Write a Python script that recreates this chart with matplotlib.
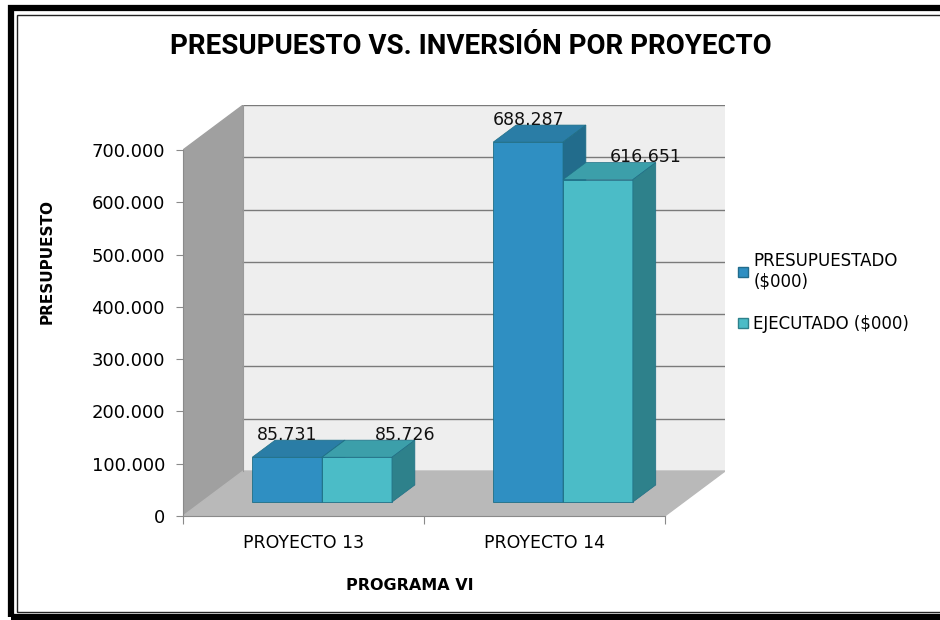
import matplotlib
matplotlib.use("Agg")
import matplotlib.pyplot as plt
from matplotlib import font_manager
from matplotlib.patches import Rectangle
from matplotlib.lines import Line2D

# data
proyectos = ["PROYECTO 13", "PROYECTO 14"]
series = ["PRESUPUESTADO\n($000)", "EJECUTADO ($000)"]
presupuestado = [85731, 688287]
ejecutado = [85726, 616651]
y_ticks = [0, 100000, 200000, 300000, 400000, 500000, 600000, 700000]

# colours: front, top, side
col_pres = ("#2F8FC2", "#2A7DA6", "#226C8C")
col_ejec = ("#4BBCC7", "#3C9FAA", "#2E818B")


def pick_font(names):
    have = {f.name for f in font_manager.fontManager.ttflist}
    for n in names:
        if n in have:
            return n
    return "DejaVu Sans"


narrow = pick_font(["Liberation Sans Narrow", "Roboto", "DejaVu Sans"])
plt.rcParams["font.family"] = "DejaVu Sans"

fig = plt.figure(figsize=(9.4, 6.2), dpi=100)
W, H = 940, 620

# 3d fake: depth offset in data units
DX = 0.25
DY = 86000
ymax = y_ticks[-1]
ax = fig.add_axes([183 / W, 104 / H, (725 - 183) / W, (516 - 105) / H])
ax.set_xlim(0, 2 + DX)
ax.set_ylim(0, ymax + DY)
ax.patch.set_alpha(0)

# walls and floor
ax.fill([DX, 2 + DX, 2 + DX, DX], [DY, DY, ymax + DY, ymax + DY],
        color="#EEEEEE", zorder=0)
ax.fill([0, DX, DX, 0], [0, DY, ymax + DY, ymax], color="#A0A0A0", zorder=0)
ax.fill([0, 2, 2 + DX, DX], [0, 0, DY, DY], color="#B9B9B9", zorder=0)
for v in y_ticks[1:]:
    ax.plot([DX, 2 + DX], [v + DY, v + DY], color="#7A7A7A", lw=1, zorder=1)
ax.plot([DX, DX], [DY, ymax + DY], color="#9A9A9A", lw=0.8, zorder=1)

# bars
f0, f1 = 0.31, 0.69
w = 0.29
ddx = (f1 - f0) * DX
ddy = (f1 - f0) * DY
centers = [0.5, 1.5]
for k, (vals, cols) in enumerate([(presupuestado, col_pres), (ejecutado, col_ejec)]):
    xs = [c + f0 * DX - w + k * w for c in centers]
    ax.bar(xs, vals, width=w, bottom=f0 * DY, align="edge",
           color=cols[0], edgecolor="#1F6F86", linewidth=0.6, zorder=3 + k)
    for x0, v in zip(xs, vals):
        top = v + f0 * DY
        ax.fill([x0, x0 + w, x0 + w + ddx, x0 + ddx],
                [top, top, top + ddy, top + ddy],
                color=cols[1], ec="#1F6F86", lw=0.5, zorder=3 + k)
        ax.fill([x0 + w, x0 + w + ddx, x0 + w + ddx, x0 + w],
                [f0 * DY, f0 * DY + ddy, top + ddy, top],
                color=cols[2], ec="#1F6F86", lw=0.5, zorder=3 + k)
        label = "{:,.0f}".format(v).replace(",", ".")
        ax.text(x0 + w / 2 + (0.2 if k == 1 else 0.0), top + ddy + 10000, label,
                ha="center", va="center", fontsize=12.5, color="#111111", zorder=6)

# axes
for s in ["top", "right"]:
    ax.spines[s].set_visible(False)
ax.spines["left"].set_bounds(0, ymax)
ax.spines["bottom"].set_bounds(0, 2)
ax.spines["left"].set_color("#8A8A8A")
ax.spines["bottom"].set_color("#8A8A8A")
ax.set_yticks(y_ticks)
ax.set_yticklabels(["{:,.0f}".format(v).replace(",", ".") for v in y_ticks])
ax.tick_params(axis="y", length=5, color="#8A8A8A", pad=8, labelsize=13)
ax.set_xticks([0, 1, 2])
ax.set_xticklabels([])
ax.set_xticks(centers, minor=True)
ax.set_xticklabels(proyectos, minor=True)
ax.tick_params(axis="x", which="major", length=6, color="#8A8A8A")
ax.tick_params(axis="x", which="minor", length=0, pad=13, labelsize=12.5)

fig.text(47 / W, 1 - 262 / H, "PRESUPUESTO", rotation=90, ha="center", va="center",
         fontsize=11, fontweight="bold")
fig.text(410 / W, 1 - 586 / H, "PROGRAMA VI", ha="center", va="center",
         fontsize=11.5, fontweight="bold")
fig.text(471 / W, 1 - 47 / H, "PRESUPUESTO VS. INVERSIÓN POR PROYECTO",
         ha="center", va="center", fontsize=20, fontweight="bold", family=narrow)

# legend
handles = [Line2D([], [], marker="s", ls="", markersize=7, markerfacecolor=c[0],
                  markeredgecolor=c[2]) for c in (col_pres, col_ejec)]
fig.legend(handles, series, loc="upper left", bbox_to_anchor=(730 / W, 1 - 245 / H),
           frameon=False, fontsize=12, handletextpad=0.3, labelspacing=1.45,
           handlelength=0.7, borderaxespad=0)

# frame
fig.patches.append(Rectangle((11 / W, 3 / H), 0.99, 1 - 11 / H,
                             transform=fig.transFigure, fill=False, lw=4.5,
                             ec="black", figure=fig))
fig.patches.append(Rectangle((16.5 / W, 8 / H), 0.99, 1 - 22.5 / H,
                             transform=fig.transFigure, fill=False, lw=1,
                             ec="#222222", figure=fig))

fig.savefig("out.png", dpi=100, facecolor="white")
